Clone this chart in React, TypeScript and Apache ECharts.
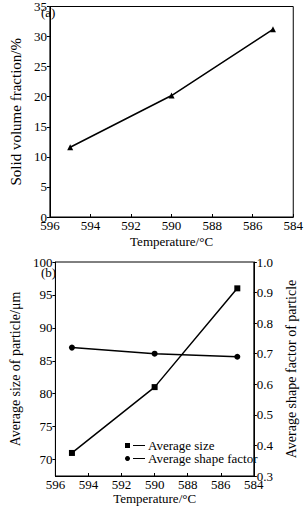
import React, { useEffect, useRef } from "react";
import * as echarts from "echarts";

const temps = [595, 590, 585];
const solidFraction = [11.6, 20.2, 31.2];
const avgSize = [71, 81, 96];
const shapeFactor = [0.72, 0.7, 0.69];
const sizeTicks = [70, 75, 80, 85, 90, 95, 100];
const shapeTicks = [0.3, 0.4, 0.5, 0.6, 0.7, 0.8, 0.9, 1.0];

const FONT = "Liberation Serif";
const FS = 13;

export default function App() {
  const ref = useRef<HTMLDivElement>(null);
  useEffect(() => {
    if (!ref.current) return;
    const chart = echarts.init(ref.current, null, { renderer: "svg" });
    const txt = { fontFamily: FONT, fontSize: FS, color: "#000" };
    const axisLine = { show: true, lineStyle: { color: "#000", width: 1 } };
    const xAxisBase = (gridIndex: number, gap: number) => ({
      type: "value",
      gridIndex,
      inverse: true,
      min: 584,
      max: 596,
      interval: 2,
      name: "Temperature/\u00B0C",
      nameLocation: "middle",
      nameGap: gap,
      nameTextStyle: txt,
      axisLine,
      axisTick: { show: true, inside: true, length: 3, lineStyle: { color: "#000" } },
      axisLabel: { ...txt, margin: 2, showMinLabel: true, showMaxLabel: true },
      splitLine: { show: false },
    });
    const yTick = { show: true, inside: false, length: 3, lineStyle: { color: "#000" } };
    chart.setOption({
      animation: false,
      backgroundColor: "#fff",
      grid: [
        { left: 36, top: 3.5, width: 265, height: 213.5, show: true, borderColor: "#000", borderWidth: 1, backgroundColor: "transparent" },
        { left: 38, top: 262, width: 232, height: 214, show: true, borderColor: "#000", borderWidth: 1, backgroundColor: "transparent" },
      ],
      xAxis: [xAxisBase(0, 18), xAxisBase(1, 15)],
      yAxis: [
        {
          type: "value",
          gridIndex: 0,
          min: 0,
          max: 35,
          interval: 5,
          name: "Solid volume fraction/%",
          nameLocation: "middle",
          nameGap: 16.5,
          nameTextStyle: { ...txt, fontSize: 15 },
          axisLine,
          axisTick: yTick,
          axisLabel: { ...txt, margin: 3 },
          splitLine: { show: false },
        },
        {
          type: "value",
          gridIndex: 1,
          min: 67.5,
          max: 100,
          name: "Average size of particle/\u03BCm",
          nameLocation: "middle",
          nameGap: 22.5,
          nameTextStyle: { ...txt, fontSize: 14 },
          axisLine,
          axisTick: { ...yTick, customValues: sizeTicks },
          axisLabel: { ...txt, margin: 3, customValues: sizeTicks },
          splitLine: { show: false },
        },
        {
          type: "value",
          gridIndex: 1,
          position: "right",
          min: 0.3,
          max: 1.0,
          name: "Average shape factor of particle",
          nameLocation: "middle",
          nameGap: 23,
          nameRotate: 90,
          nameTextStyle: { ...txt, fontSize: 14 },
          axisLine,
          axisTick: { ...yTick, customValues: shapeTicks },
          axisLabel: { ...txt, margin: 3, customValues: shapeTicks, formatter: (v: number) => v.toFixed(1) },
          splitLine: { show: false },
        },
      ],
      legend: {
        orient: "vertical",
        left: 125,
        top: 439,
        padding: 0,
        itemGap: 0,
        itemWidth: 20,
        itemHeight: 5,
        textStyle: { ...txt, lineHeight: 13, padding: [0, 0, 0, -2] },
        data: [
          { name: "Average size", icon: "path://M0,0h5v5h-5zM8,2h12v1h-12z" },
          { name: "Average shape factor", icon: "path://M2.5,0a2.5,2.5 0 1,0 0.001,0zM8,2h12v1h-12z" },
        ],
      },
      graphic: [
        { type: "text", left: 41, top: 6, style: { text: "(a)", font: `${FS}px ${FONT}`, fill: "#000" } },
        { type: "text", left: 41, top: 266, style: { text: "(b)", font: `${FS}px ${FONT}`, fill: "#000" } },
      ],
      series: [
        {
          type: "line",
          name: "Solid volume fraction",
          xAxisIndex: 0,
          yAxisIndex: 0,
          data: temps.map((t, i) => [t, solidFraction[i]]),
          symbol: "triangle",
          symbolSize: 6,
          lineStyle: { color: "#000", width: 1.5 },
          itemStyle: { color: "#000" },
        },
        {
          type: "line",
          name: "Average size",
          xAxisIndex: 1,
          yAxisIndex: 1,
          data: temps.map((t, i) => [t, avgSize[i]]),
          symbol: "rect",
          symbolSize: 6,
          lineStyle: { color: "#000", width: 1.5 },
          itemStyle: { color: "#000" },
        },
        {
          type: "line",
          name: "Average shape factor",
          xAxisIndex: 1,
          yAxisIndex: 2,
          data: temps.map((t, i) => [t, shapeFactor[i]]),
          symbol: "circle",
          symbolSize: 6,
          lineStyle: { color: "#000", width: 1.5 },
          itemStyle: { color: "#000" },
        },
      ],
    });
    return () => chart.dispose();
  }, []);
  return (
    <div
      ref={ref}
      style={{ position: "fixed", left: 0, top: 0, width: 306, height: 507, background: "#fff" }}
    />
  );
}
